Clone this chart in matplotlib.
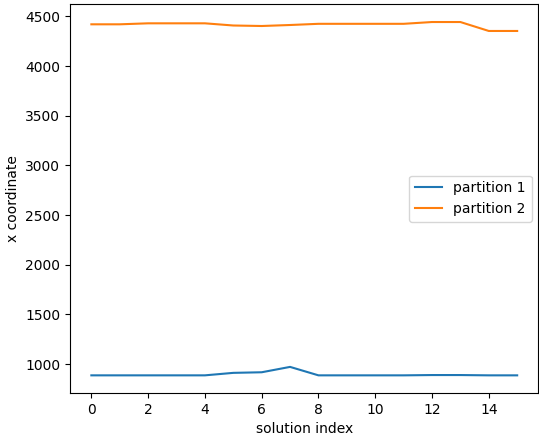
import matplotlib
matplotlib.use("Agg")
import matplotlib.pyplot as plt

solution_index = list(range(16))
partition_1 = [887, 887, 887, 887, 887, 912, 918, 972, 887, 887, 887, 887, 890, 890, 887, 887]
partition_2 = [4420, 4420, 4430, 4430, 4430, 4408, 4403, 4413, 4425, 4425, 4425, 4425, 4443, 4443, 4353, 4353]

fig, ax = plt.subplots(figsize=(5.39, 4.36), dpi=100)
ax.plot(solution_index, partition_1, label="partition 1")
ax.plot(solution_index, partition_2, label="partition 2")
ax.set_xlabel("solution index")
ax.set_ylabel("x coordinate")
ax.set_xticks([0, 2, 4, 6, 8, 10, 12, 14])
ax.legend(loc="center right")
fig.subplots_adjust(left=0.13, right=0.999, top=0.990, bottom=0.0986)
fig.savefig("out.png", dpi=100)
